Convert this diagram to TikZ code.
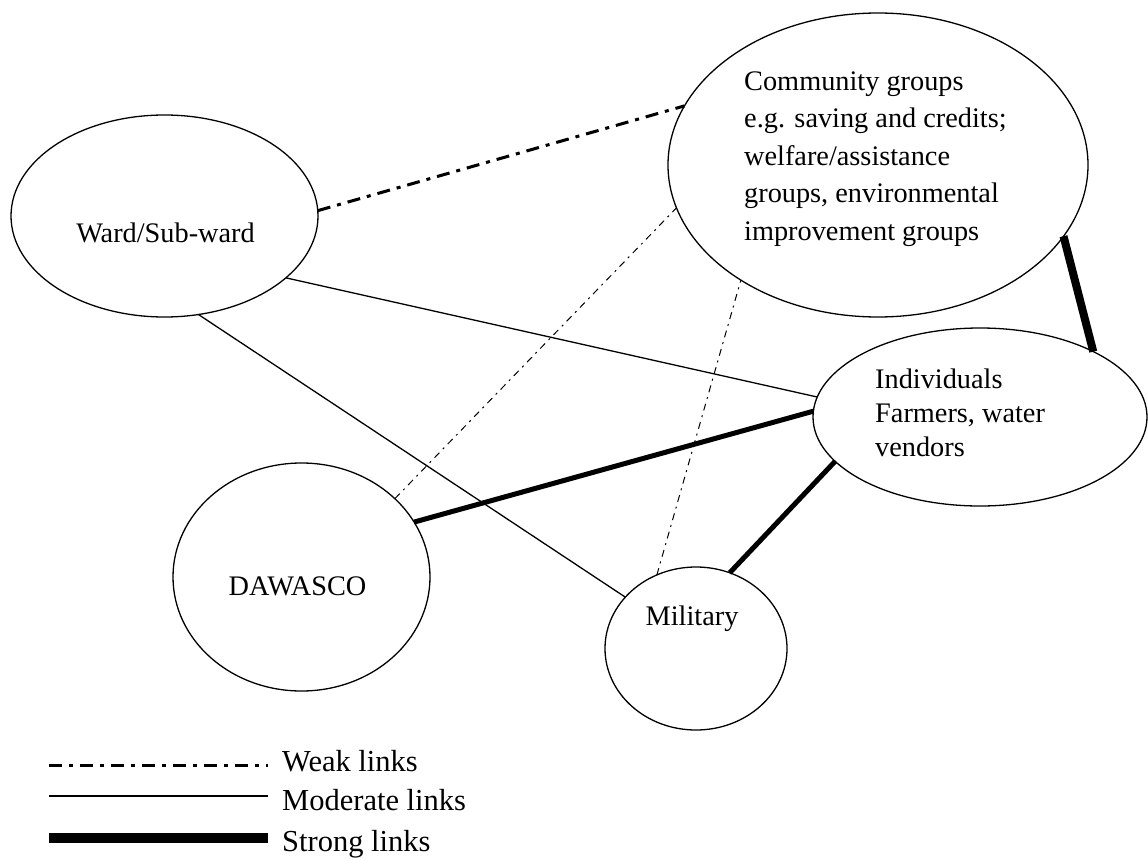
\documentclass[tikz,border=0pt]{standalone}
\usepackage{fontspec}
\setmainfont{Liberation Serif}
\usetikzlibrary{shapes.geometric}
\begin{document}
\begin{tikzpicture}[x=1pt,y=-1pt,
  ell/.style={draw, ellipse, line width=1.3pt, inner sep=0pt, outer sep=0pt},
  txt/.style={inner sep=0pt, font=\fontsize{28.3}{37.5}\selectfont},
  legtxt/.style={inner sep=0pt, anchor=base west, font=\fontsize{30.5}{36}\selectfont},
  weaklink/.style={line width=3pt, dash pattern=on 13pt off 7pt on 4pt off 7pt},
  thinweak/.style={line width=1pt, dash pattern=on 7pt off 5pt on 2pt off 5pt},
  modlink/.style={line width=1.3pt},
  stronglink/.style={line width=5pt},
  heavylink/.style={line width=8pt},
  legstrong/.style={line width=10.7pt}]
\useasboundingbox (0,0) rectangle (1148,859);

% ellipses
\node[ell, minimum width=307pt, minimum height=202pt] (ward) at (164.5,216) {};
\node[ell, minimum width=420pt, minimum height=304pt] (comm) at (878,165) {};
\node[ell, minimum width=334pt, minimum height=178pt] (indiv) at (980,417) {};
\node[ell, minimum width=257pt, minimum height=228pt] (daw) at (301.5,577) {};
\node[ell, minimum width=182pt, minimum height=163pt] (mil) at (696,648.5) {};

% texts
\node[txt, anchor=base] (wardtxt) at (165.5,242) {Ward/Sub-ward};
\node[txt, anchor=base west] (commtxt) at (744,90) {\fontsize{28.3}{37.5}\selectfont\begin{tabular}[t]{@{}l@{}}Community groups\\ e.g. saving and credits;\\ welfare/assistance\\ groups, environmental\\ improvement groups\end{tabular}};
\node[txt, anchor=base west] (indivtxt) at (875,388) {\fontsize{28.3}{34}\selectfont\begin{tabular}[t]{@{}l@{}}Individuals\\ Farmers, water\\ vendors\end{tabular}};
\node[txt, anchor=base] (dawtxt) at (297.5,595) {DAWASCO};
\node[txt, anchor=base] (miltxt) at (692,625) {Military};

% links
\draw[weaklink] (ward.2.2) -- (comm.163.3);
\draw[thinweak] (daw.40.1) -- (comm.192.2);
\draw[thinweak] (mil.118.3) -- (comm.220.9);
\draw[modlink] (ward.-27.4) -- (indiv.173.9);
\draw[modlink] (ward.-71.6) -- (mil.144.3);
\draw[stronglink] (daw.26.7) -- (indiv.178.6);
\draw[stronglink] (mil.66.8) -- (indiv.197.9);
\draw[heavylink] (comm.-21) -- (indiv.30.9);

% legend
\coordinate (lw1) at (49,765);  \coordinate (lw2) at (268,765);
\coordinate (lm1) at (49,796);  \coordinate (lm2) at (268,796);
\coordinate (ls1) at (49,838);  \coordinate (ls2) at (268,838);
\draw[weaklink] (lw1) -- (lw2);
\draw[modlink] (lm1) -- (lm2);
\draw[legstrong] (ls1) -- (ls2);
\node[legtxt] (lwt) at (282,771) {Weak links};
\node[legtxt] (lmt) at (282,810) {Moderate links};
\node[legtxt] (lst) at (282,851) {Strong links};
\end{tikzpicture}
\end{document}
